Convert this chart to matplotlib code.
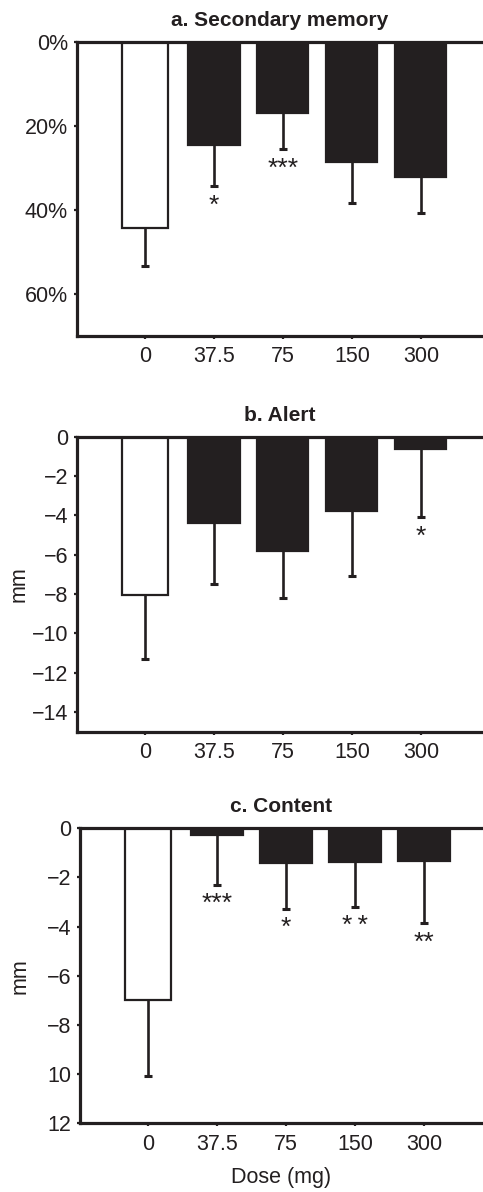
import numpy as np
import matplotlib
matplotlib.use('Agg')
import matplotlib.pyplot as plt

plt.rcParams['font.family'] = ['Liberation Sans', 'DejaVu Sans']
plt.rcParams['axes.unicode_minus'] = True

INK = '#231f20'

doses = ['0', '37.5', '75', '150', '300']

# a. Secondary memory (% , drawn downwards)
mem_mean = [44.4, 24.6, 16.9, 28.6, 32.2]
mem_err = [8.9, 9.8, 8.6, 9.8, 8.4]
mem_stars = ['', '*', '***', '', '']
mem_ticks = [0, 20, 40, 60]
mem_ticklabels = ['0%', '20%', '40%', '60%']

# b. Alert (mm)
alert_mean = [-8.05, -4.4, -5.8, -3.8, -0.6]
alert_err = [3.25, 3.1, 2.4, 3.3, 3.5]
alert_stars = ['', '', '', '', '*']
alert_ticks = [0, -2, -4, -6, -8, -10, -12, -14]
alert_ticklabels = ['0', '\u22122', '\u22124', '\u22126', '\u22128',
                    '\u221210', '\u221212', '\u221214']

# c. Content (mm)
content_mean = [-7.0, -0.28, -1.42, -1.38, -1.33]
content_err = [3.06, 2.02, 1.85, 1.81, 2.53]
content_stars = ['', '***', '*', '*\u2009*', '**']
content_ticks = [0, -2, -4, -6, -8, -10, -12]
content_ticklabels = ['0', '\u22122', '\u22124', '\u22126', '\u22128', '10', '12']


def draw_panel(ax, means, errs, stars, title, ticks, ticklabels, ylim, down_is_positive):
    x = np.arange(len(means))
    colors = ['white'] + [INK] * (len(means) - 1)
    widths = [0.68] + [0.74] * (len(means) - 1)
    ax.bar(x, means, width=widths, color=colors, edgecolor=INK, linewidth=1.6, zorder=2)

    zeros = np.zeros(len(errs))
    if down_is_positive:
        yerr = [zeros, errs]
        hide = 0
    else:
        yerr = [errs, zeros]
        hide = 1
    _, caps, _ = ax.errorbar(x, means, yerr=yerr, fmt='none', ecolor=INK,
                             elinewidth=1.9, capsize=3, capthick=2.2, zorder=3)
    caps[hide].set_visible(False)

    sign = 1 if down_is_positive else -1
    for xi, m, e, s in zip(x, means, errs, stars):
        if s:
            ax.annotate(s, (xi, m + sign * e), xytext=(0, -19), textcoords='offset points',
                        ha='center', va='baseline', fontsize=19, color=INK)

    ax.set_xlim(-0.986, ax_right[ax])
    ax.set_ylim(*ylim)
    ax.set_yticks(ticks)
    ax.set_yticklabels(ticklabels)
    ax.set_xticks(x)
    ax.set_xticklabels(doses)
    ax.set_title(title, fontsize=15, fontweight='bold', pad=11.5, color=INK)

    for side in ['left', 'bottom', 'top']:
        ax.spines[side].set_linewidth(2.3)
        ax.spines[side].set_color(INK)
    ax.spines['right'].set_visible(False)
    ax.tick_params(axis='both', direction='out', length=2.5, width=1.6, colors=INK,
                   labelsize=15.5, labelcolor=INK)
    ax.tick_params(axis='y', pad=4)
    ax.tick_params(axis='x', pad=5)


fig = plt.figure(figsize=(4.83, 11.92), dpi=100)
W, H = 483.0, 1192.0
ax_a = fig.add_axes([77 / W, 1 - 336 / H, (W - 77) / W, 294 / H])
ax_b = fig.add_axes([77 / W, 1 - 731.7 / H, (W - 77) / W, 295 / H])
ax_c = fig.add_axes([80 / W, 1 - 1123.3 / H, (W - 80) / W, 295 / H])
ax_right = {ax_a: 4.9, ax_b: 4.9, ax_c: 4.855}

draw_panel(ax_a, mem_mean, mem_err, mem_stars, 'a. Secondary memory',
           mem_ticks, mem_ticklabels, (70, 0), True)
draw_panel(ax_b, alert_mean, alert_err, alert_stars, 'b. Alert',
           alert_ticks, alert_ticklabels, (-15, 0), False)
draw_panel(ax_c, content_mean, content_err, content_stars, 'c. Content',
           content_ticks, content_ticklabels, (-12, 0), False)

ax_b.set_ylabel('mm', fontsize=15.5, color=INK)
ax_b.yaxis.set_label_coords(-0.118, 0.5)
ax_c.set_ylabel('mm', fontsize=15.5, color=INK)
ax_c.yaxis.set_label_coords(-0.122, 0.5)
ax_c.set_xlabel('Dose (mg)', fontsize=15.5, color=INK, labelpad=9)

fig.savefig('out.png', dpi=100)
